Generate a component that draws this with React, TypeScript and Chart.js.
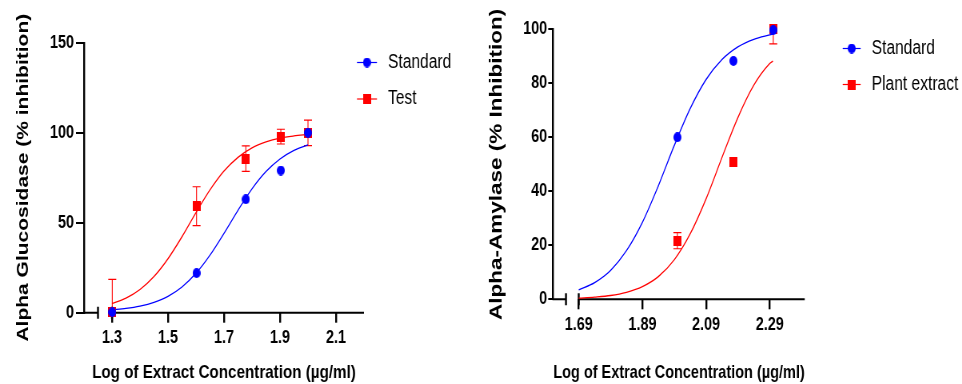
import React, { useEffect, useRef } from "react";
import { Chart, registerables } from "chart.js";

Chart.register(...registerables);

// ---------- Left panel: alpha-glucosidase ----------
const glucoPointX = [1.301, 1.602, 1.778, 1.903, 2.0];
const glucoStandardY = [0.3, 22, 63, 79, 100];
const glucoTestY = [0.3, 59.2, 85.6, 97.8, 99.9];
const glucoTestErr = [18.2, 10.8, 7.1, 4.1, 7.1];
const glucoCurveX = [1.3, 1.35, 1.4, 1.45, 1.5, 1.55, 1.6, 1.65, 1.7, 1.75, 1.8, 1.85, 1.9, 1.95, 2.0];
const glucoStandardCurveY = [1.6, 2.4, 3.7, 5.8, 9.1, 14.3, 21.9, 32.0, 44.1, 56.9, 68.8, 78.4, 85.4, 90.2, 93.2];
const glucoTestCurveY = [5.1, 8.1, 12.9, 20.1, 30.0, 42.2, 55.6, 68.2, 78.7, 86.3, 91.6, 94.9, 97.0, 98.2, 99.0];
const glucoXTicks = [1.3, 1.5, 1.7, 1.9, 2.1];
const glucoXTickLabels = ["1.3", "1.5", "1.7", "1.9", "2.1"];
const glucoYTicks = [0, 50, 100, 150];
const glucoYTickLabels = ["0", "50", "100", "150"];
const glucoLegend = ["Standard", "Test"];

// ---------- Right panel: alpha-amylase ----------
const amylasePointX = [2.0, 2.176, 2.301];
const amylaseStandardY = [60, 88.3, 99.7];
const amylaseExtractY = [21.7, 51, 100];
const amylaseExtractErr = [3.0, 1.0, 5.4];
const amylaseCurveX = [1.69, 1.74, 1.79, 1.84, 1.89, 1.94, 1.99, 2.04, 2.09, 2.14, 2.19, 2.24, 2.29, 2.3];
const amylaseStandardCurveY = [3.5, 6.2, 10.7, 18.0, 28.5, 42.0, 56.9, 70.6, 81.4, 88.8, 93.5, 96.3, 97.9, 98.2];
const amylaseExtractCurveY = [0.4, 0.8, 1.4, 2.6, 4.7, 8.4, 14.6, 24.2, 37.2, 52.5, 67.3, 79.3, 87.3, 88.2];
const amylaseXTicks = [1.69, 1.89, 2.09, 2.29];
const amylaseXTickLabels = ["1.69", "1.89", "2.09", "2.29"];
const amylaseYTicks = [0, 20, 40, 60, 80, 100];
const amylaseYTickLabels = ["0", "20", "40", "60", "80", "100"];
const amylaseLegend = ["Standard", "Plant extract"];

const BLUE = "#0000ff";
const RED = "#ff0000";
const SANS = "'Liberation Sans', Arial, Helvetica, sans-serif";
// The reference picture is squeezed horizontally; each canvas is drawn wider and shown at this ratio.
const SX = 0.8;

function makeMarker(shape: "ellipse" | "rect", color: string, w: number, h: number) {
  const c = document.createElement("canvas");
  c.width = Math.round(w);
  c.height = Math.round(h);
  const ctx = c.getContext("2d")!;
  ctx.fillStyle = color;
  if (shape === "ellipse") {
    ctx.beginPath();
    ctx.ellipse(c.width / 2, c.height / 2, c.width / 2, c.height / 2, 0, 0, Math.PI * 2);
    ctx.fill();
  } else {
    ctx.fillRect(0, 0, c.width, c.height);
  }
  return c;
}

const errorBarPlugin = {
  id: "errorBars",
  beforeDatasetsDraw(chart: any) {
    const { ctx, chartArea, scales } = chart;
    ctx.save();
    ctx.beginPath();
    ctx.rect(chartArea.left - 60, chartArea.top, chartArea.right - chartArea.left + 120, chartArea.bottom - chartArea.top);
    ctx.clip();
    chart.data.datasets.forEach((ds: any) => {
      if (!ds.errorBars) return;
      ctx.strokeStyle = ds.errorColor;
      ctx.lineWidth = 1.1;
      ds.data.forEach((p: any, i: number) => {
        const e = ds.errorBars[i];
        if (!e) return;
        const x = scales.x.getPixelForValue(p.x);
        const yt = scales.y.getPixelForValue(p.y + e);
        const yb = scales.y.getPixelForValue(p.y - e);
        const cap = 4 / SX;
        ctx.beginPath();
        ctx.moveTo(x, yt);
        ctx.lineTo(x, yb);
        ctx.moveTo(x - cap, yt);
        ctx.lineTo(x + cap, yt);
        ctx.moveTo(x - cap, yb);
        ctx.lineTo(x + cap, yb);
        ctx.stroke();
      });
    });
    ctx.restore();
  },
};

const axisBreakPlugin = {
  id: "axisBreak",
  beforeDatasetsDraw(chart: any, _args: any, opts: any) {
    const { ctx, chartArea, scales } = chart;
    const y = chartArea.bottom;
    const b1 = scales.x.getPixelForValue(opts.from);
    const b2 = scales.x.getPixelForValue(opts.to);
    ctx.save();
    ctx.strokeStyle = "#000";
    ctx.lineWidth = 2;
    ctx.beginPath();
    ctx.moveTo(chartArea.left - 1, y);
    ctx.lineTo(b1, y);
    ctx.moveTo(b2, y);
    ctx.lineTo(chartArea.right, y);
    ctx.stroke();
    ctx.lineWidth = 2.4;
    ctx.beginPath();
    ctx.moveTo(b1, y - opts.mark);
    ctx.lineTo(b1, y + opts.mark);
    ctx.moveTo(b2, y - opts.mark);
    ctx.lineTo(b2, y + opts.mark);
    ctx.stroke();
    ctx.restore();
  },
};

function makeLegendPlugin(
  items: { label: string; color: string; marker: HTMLCanvasElement }[],
  layout: { x: number; y: number; gap: number; lineLength: number; textGap: number; fontSize: number }
) {
  return {
    id: "panelLegend",
    afterDraw(chart: any) {
      const { ctx } = chart;
      const x0 = layout.x / SX;
      const len = layout.lineLength / SX;
      items.forEach((item, i) => {
        const cy = layout.y + i * layout.gap;
        ctx.save();
        ctx.strokeStyle = item.color;
        ctx.lineWidth = 1.2;
        ctx.beginPath();
        ctx.moveTo(x0, cy);
        ctx.lineTo(x0 + len, cy);
        ctx.stroke();
        const m = item.marker;
        ctx.drawImage(m, x0 + len / 2 - m.width / 2, cy - m.height / 2);
        ctx.fillStyle = "#000";
        ctx.font = `${layout.fontSize}px ${SANS}`;
        ctx.textBaseline = "middle";
        ctx.textAlign = "left";
        ctx.fillText(item.label, x0 + len + layout.textGap / SX, cy);
        ctx.restore();
      });
    },
  };
}

interface PanelSpec {
  pointX: number[];
  stdY: number[];
  testY: number[];
  testErr: number[];
  curveX: number[];
  stdCurveY: number[];
  testCurveY: number[];
  xTicks: number[];
  xTickLabels: string[];
  yTicks: number[];
  yTickLabels: string[];
  legend: string[];
  xMin: number;
  xMax: number;
  yMax: number;
  breakFrom: number;
  breakTo: number;
  yTitle: string;
  yTitleSize: number;
  yTitleCenter: number;
  yAxisRight: number;
  plotRight: number;
  cssWidth: number;
  yTickLength: number;
  yTickPad: number;
  xAxisHeight: number;
  padTop: number;
  legendLayout: { x: number; y: number; gap: number; lineLength: number; textGap: number; fontSize: number };
}

function buildConfig(s: PanelSpec, canvasWidth: number): any {
  const blueDot = makeMarker("ellipse", BLUE, 8 / SX, 10);
  const redSq = makeMarker("rect", RED, 8 / SX, 10);
  const pts = (ys: number[]) => s.pointX.map((x, i) => ({ x, y: ys[i] }));
  const curve = (ys: number[]) => s.curveX.map((x, i) => ({ x, y: ys[i] }));
  const titleLine = s.yTitleSize * 1.2;
  return {
    type: "scatter",
    data: {
      datasets: [
        { label: s.legend[0], data: pts(s.stdY), pointStyle: blueDot, pointRadius: 5, pointHoverRadius: 5, showLine: false, clip: false },
        {
          label: s.legend[1], data: pts(s.testY), pointStyle: redSq, pointRadius: 5, pointHoverRadius: 5, showLine: false, clip: false,
          errorBars: s.testErr, errorColor: RED,
        },
        { label: s.legend[0] + " fit", data: curve(s.stdCurveY), showLine: true, borderColor: BLUE, borderWidth: 1.3, pointRadius: 0, cubicInterpolationMode: "monotone", fill: false },
        { label: s.legend[1] + " fit", data: curve(s.testCurveY), showLine: true, borderColor: RED, borderWidth: 1.3, pointRadius: 0, cubicInterpolationMode: "monotone", fill: false },
      ],
    },
    options: {
      responsive: false,
      animation: false,
      devicePixelRatio: 1,
      events: [],
      layout: { padding: { top: s.padTop, right: canvasWidth - s.plotRight / SX, bottom: 0, left: 0 } },
      plugins: {
        legend: { display: false },
        tooltip: { enabled: false },
        axisBreak: { from: s.breakFrom, to: s.breakTo, mark: 6 },
      },
      scales: {
        x: {
          type: "linear",
          min: s.xMin,
          max: s.xMax,
          afterBuildTicks: (scale: any) => {
            scale.ticks = s.xTicks.map((v) => ({ value: v }));
          },
          afterFit: (scale: any) => {
            scale.height = s.xAxisHeight;
          },
          border: { display: false },
          grid: { display: true, drawOnChartArea: false, drawTicks: true, tickLength: 10, color: "#000", lineWidth: 2.4 },
          ticks: {
            autoSkip: false,
            maxRotation: 0,
            padding: 5,
            color: "#000",
            font: { family: SANS, size: 18, weight: "bold" },
            callback: (_v: any, i: number) => s.xTickLabels[i],
          },
          title: {
            display: true,
            text: "Log of Extract Concentration (µg/ml)",
            color: "#000",
            font: { family: SANS, size: 19, weight: "bold" },
            padding: { top: 0, bottom: 0 },
          },
        },
        y: {
          type: "linear",
          min: 0,
          max: s.yMax,
          afterBuildTicks: (scale: any) => {
            scale.ticks = s.yTicks.map((v) => ({ value: v }));
          },
          afterFit: (scale: any) => {
            scale.width = s.yAxisRight / SX;
          },
          border: { display: true, color: "#000", width: 2.4 },
          grid: { display: true, drawOnChartArea: false, drawTicks: true, tickLength: s.yTickLength / SX, color: "#000", lineWidth: 2 },
          ticks: {
            padding: s.yTickPad / SX,
            color: "#000",
            font: { family: SANS, size: 18, weight: "bold" },
            callback: (_v: any, i: number) => s.yTickLabels[i],
          },
          title: {
            display: true,
            text: s.yTitle,
            color: "#000",
            font: { family: SANS, size: s.yTitleSize, weight: "bold" },
            padding: { top: s.yTitleCenter / SX - titleLine / 2, bottom: 0 },
          },
        },
      },
    },
    plugins: [
      errorBarPlugin,
      axisBreakPlugin,
      makeLegendPlugin(
        [
          { label: s.legend[0], color: BLUE, marker: blueDot },
          { label: s.legend[1], color: RED, marker: redSq },
        ],
        s.legendLayout
      ),
    ],
  };
}

const glucoSpec: PanelSpec = {
  pointX: glucoPointX,
  stdY: glucoStandardY,
  testY: glucoTestY,
  testErr: glucoTestErr,
  curveX: glucoCurveX,
  stdCurveY: glucoStandardCurveY,
  testCurveY: glucoTestCurveY,
  xTicks: glucoXTicks,
  xTickLabels: glucoXTickLabels,
  yTicks: glucoYTicks,
  yTickLabels: glucoYTickLabels,
  legend: glucoLegend,
  xMin: 1.2,
  xMax: 2.2,
  yMax: 150,
  breakFrom: 1.25,
  breakTo: 1.3,
  yTitle: "Alpha Glucosidase (% inhibition)",
  yTitleSize: 21,
  yTitleCenter: 23.5,
  yAxisRight: 84,
  plotRight: 364,
  cssWidth: 480,
  yTickLength: 8,
  yTickPad: 2,
  xAxisHeight: 71.3,
  padTop: 42.7,
  legendLayout: { x: 357, y: 62.5, gap: 36.5, lineLength: 20, textGap: 11, fontSize: 19.5 },
};

const amylaseSpec: PanelSpec = {
  pointX: amylasePointX,
  stdY: amylaseStandardY,
  testY: amylaseExtractY,
  testErr: amylaseExtractErr,
  curveX: amylaseCurveX,
  stdCurveY: amylaseStandardCurveY,
  testCurveY: amylaseExtractCurveY,
  xTicks: amylaseXTicks,
  xTickLabels: amylaseXTickLabels,
  yTicks: amylaseYTicks,
  yTickLabels: amylaseYTickLabels,
  legend: amylaseLegend,
  xMin: 1.61,
  xMax: 2.4,
  yMax: 100,
  breakFrom: 1.65,
  breakTo: 1.69,
  yTitle: "Alpha-Amylase (% Inhibition)",
  yTitleSize: 22.5,
  yTitleCenter: 16.7,
  yAxisRight: 73.3,
  plotRight: 325,
  cssWidth: 482,
  yTickLength: 5,
  yTickPad: 1,
  xAxisHeight: 84.7,
  padTop: 29.3,
  legendLayout: { x: 363, y: 48.5, gap: 36, lineLength: 18, textGap: 11, fontSize: 19.5 },
};

function Panel({ spec }: { spec: PanelSpec }) {
  const ref = useRef<HTMLCanvasElement>(null);
  const canvasWidth = Math.round(spec.cssWidth / SX);
  useEffect(() => {
    const chart = new Chart(ref.current!, buildConfig(spec, canvasWidth));
    return () => chart.destroy();
  }, [spec, canvasWidth]);
  return (
    <canvas
      ref={ref}
      width={canvasWidth}
      height={384}
      style={{ display: "block", width: spec.cssWidth, height: 384 }}
    />
  );
}

export default function App() {
  return (
    <div style={{ position: "fixed", left: 0, top: 0, width: 962, height: 384, display: "flex", background: "#fff" }}>
      <Panel spec={glucoSpec} />
      <Panel spec={amylaseSpec} />
    </div>
  );
}
